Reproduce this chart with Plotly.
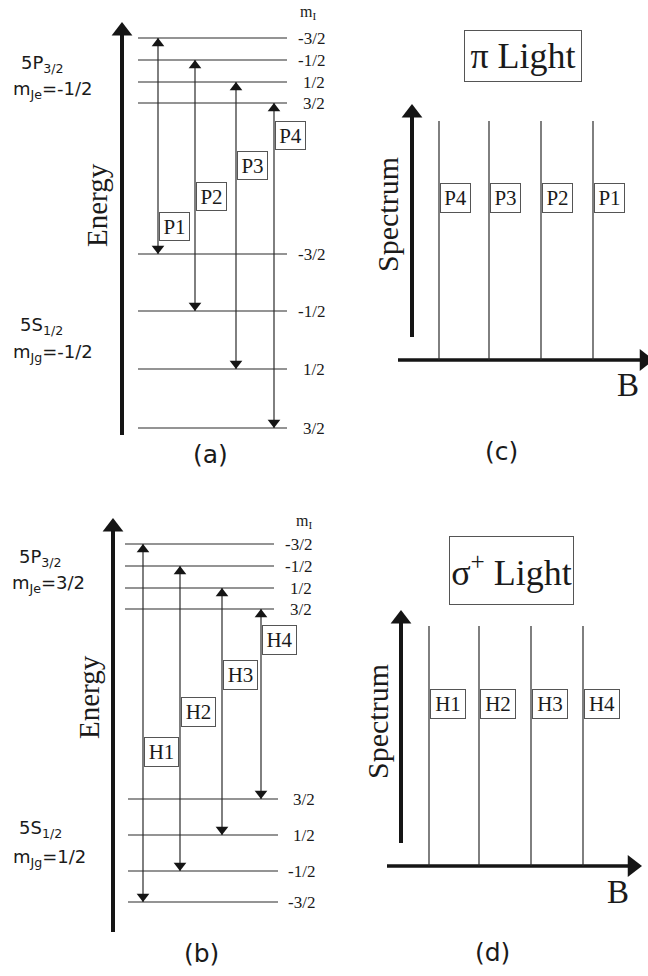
import plotly.graph_objects as go

# ----------------------------- data -----------------------------
# (a) pi light: 5P3/2 mJe=-1/2  <->  5S1/2 mJg=-1/2   (energy in drawing units)
A_EXC_E = [38, 60, 82, 103]
A_EXC_MI = ["-3/2", "-1/2", "1/2", "3/2"]
A_GND_E = [254, 311, 369, 428]
A_GND_MI = ["-3/2", "-1/2", "1/2", "3/2"]
A_TRANS = ["P1", "P2", "P3", "P4"]
A_TRANS_MI = ["-3/2", "-1/2", "1/2", "3/2"]
A_TRANS_X = [158, 195, 236, 274]
A_BOX_E = [226, 196, 165, 135]

# (b) sigma+ light: 5P3/2 mJe=3/2  <->  5S1/2 mJg=1/2
B_EXC_E = [544, 566, 588, 609]
B_EXC_MI = ["-3/2", "-1/2", "1/2", "3/2"]
B_GND_E = [799, 835, 871, 902]
B_GND_MI = ["3/2", "1/2", "-1/2", "-3/2"]
B_TRANS = ["H1", "H2", "H3", "H4"]
B_TRANS_MI = ["-3/2", "-1/2", "1/2", "3/2"]
B_TRANS_X = [143, 180, 222, 261]
B_BOX_E = [752, 712, 675, 640]

# (c) spectrum vs B, pi light
C_LINES = ["P4", "P3", "P2", "P1"]
C_B = [439, 489, 541, 593]
# (d) spectrum vs B, sigma+ light
D_LINES = ["H1", "H2", "H3", "H4"]
D_B = [429, 479, 531, 583]

# ----------------------------- styling -----------------------------
W, H = 648, 976
LEVEL_COL = "#2a2a2a"
ARROW_COL = "#2a2a2a"
AXIS_COL = "#151515"
TEXT_COL = "#1a1a1a"
SERIF = "Liberation Serif, Times New Roman, serif"
SANS = "DejaVu Sans, sans-serif"

fig = go.Figure()


def seg_trace(xs, ys, width, color):
    fig.add_trace(go.Scatter(x=xs, y=ys, mode="lines", hoverinfo="skip",
                             line=dict(color=color, width=width), showlegend=False))


def marker_trace(xs, ys, symbol, size, color):
    fig.add_trace(go.Scatter(x=xs, y=ys, mode="markers", hoverinfo="skip",
                             marker=dict(symbol=symbol, size=size, color=color,
                                         line=dict(width=0)),
                             showlegend=False, cliponaxis=False))


def text(x, y, s, size, font=SERIF, xanchor="center", yanchor="middle", angle=0):
    fig.add_annotation(x=x, y=y, xref="x", yref="y", text=s, showarrow=False,
                       textangle=angle, xanchor=xanchor, yanchor=yanchor,
                       font=dict(family=font, size=size, color=TEXT_COL))


def boxed(x, y, s, size, w, h, xanchor="left"):
    fig.add_annotation(x=x, y=y, xref="x", yref="y", text=s, showarrow=False,
                       xanchor=xanchor, yanchor="middle", width=w, height=h,
                       borderpad=0, bordercolor="#555555", borderwidth=1,
                       font=dict(family=SERIF, size=size, color=TEXT_COL))


def levels(energies, x0, x1):
    xs, ys = [], []
    for e in energies:
        xs += [x0, x1, None]
        ys += [e, e, None]
    seg_trace(xs, ys, 1.2, LEVEL_COL)


def transitions(xpos, e_up, e_down):
    xs, ys = [], []
    for x, u, d in zip(xpos, e_up, e_down):
        xs += [x, x, None]
        ys += [u, d, None]
    seg_trace(xs, ys, 1.2, ARROW_COL)
    r = 5.5
    marker_trace(xpos, [u + r for u in e_up], "triangle-up", 11, AXIS_COL)
    marker_trace(xpos, [d - r for d in e_down], "triangle-down", 11, AXIS_COL)


def v_axis(x, tip, bottom):
    seg_trace([x, x], [tip + 8, bottom], 4, AXIS_COL)
    marker_trace([x], [tip + 9], "triangle-up", 18, AXIS_COL)


def h_axis(y, left, tip):
    seg_trace([left, tip - 8], [y, y], 3.5, AXIS_COL)
    marker_trace([tip - 9.5], [y], "triangle-right", 19, AXIS_COL)


# ----------------------------- panel (a) -----------------------------
v_axis(122, 22, 435)
levels(A_EXC_E, 138, 287)
levels(A_GND_E, 138, 287)
a_up = [A_EXC_E[A_EXC_MI.index(m)] for m in A_TRANS_MI]
a_dn = [A_GND_E[A_GND_MI.index(m)] for m in A_TRANS_MI]
transitions(A_TRANS_X, a_up, a_dn)
for x, e, s in zip(A_TRANS_X, A_BOX_E, A_TRANS):
    boxed(x + 1, e, s, 21, 29, 27)
text(318, 12, "m<sub>I</sub>", 16, xanchor="right")
for e, m in zip(A_EXC_E, A_EXC_MI):
    text(327, e, m, 17, xanchor="right")
for e, m in zip(A_GND_E, A_GND_MI):
    text(327, e, m, 17, xanchor="right")
text(19, 64, "5P<sub>3/2</sub>", 18, font=SANS, xanchor="left")
text(11, 90, "m<sub>Je</sub>=-1/2", 18, font=SANS, xanchor="left")
text(18, 326, "5S<sub>1/2</sub>", 18, font=SANS, xanchor="left")
text(11, 353, "m<sub>Jg</sub>=-1/2", 18, font=SANS, xanchor="left")
text(97, 205, "Energy", 29, angle=-90)
text(210, 454, "(a)", 25, font=SANS)

# ----------------------------- panel (b) -----------------------------
v_axis(113, 518, 932)
levels(B_EXC_E, 125, 274)
levels(B_GND_E, 128, 278)
b_up = [B_EXC_E[B_EXC_MI.index(m)] for m in B_TRANS_MI]
b_dn = [B_GND_E[B_GND_MI.index(m)] for m in B_TRANS_MI]
transitions(B_TRANS_X, b_up, b_dn)
for x, e, s in zip(B_TRANS_X, B_BOX_E, B_TRANS):
    boxed(x + 1, e, s, 21, 33, 28)
text(314, 521, "m<sub>I</sub>", 16, xanchor="right")
for e, m in zip(B_EXC_E, B_EXC_MI):
    text(314, e, m, 17, xanchor="right")
for e, m in zip(B_GND_E, B_GND_MI):
    text(317, e, m, 17, xanchor="right")
text(17, 558, "5P<sub>3/2</sub>", 18, font=SANS, xanchor="left")
text(10, 584, "m<sub>Je</sub>=3/2", 18, font=SANS, xanchor="left")
text(17, 829, "5S<sub>1/2</sub>", 18, font=SANS, xanchor="left")
text(11, 858, "m<sub>Jg</sub>=1/2", 18, font=SANS, xanchor="left")
text(89, 697, "Energy", 29, angle=-90)
text(201, 953, "(b)", 25, font=SANS)

# ----------------------------- panel (c) -----------------------------
v_axis(412, 104, 337)
h_axis(360, 398, 654)
xs, ys = [], []
for b in C_B:
    xs += [b, b, None]
    ys += [121, 360, None]
seg_trace(xs, ys, 1.2, ARROW_COL)
for b, s in zip(C_B, C_LINES):
    boxed(b + 1, 198, s, 21, 29, 28)
boxed(523, 56, "π Light", 36, 116, 50, xanchor="center")
text(387, 215, "Spectrum", 30, angle=-90)
text(628, 385, "B", 33)
text(501, 451, "(c)", 25, font=SANS)

# ----------------------------- panel (d) -----------------------------
v_axis(401, 610, 843)
h_axis(866, 387, 642)
xs, ys = [], []
for b in D_B:
    xs += [b, b, None]
    ys += [626, 866, None]
seg_trace(xs, ys, 1.2, ARROW_COL)
for b, s in zip(D_B, D_LINES):
    boxed(b + 1, 704, s, 21, 34, 28)
boxed(511, 570, "σ<sup>+</sup> Light", 36, 123, 67, xanchor="center")
text(377, 722, "Spectrum", 30, angle=-90)
text(618, 892, "B", 33)
text(492, 952, "(d)", 25, font=SANS)

fig.update_layout(
    width=W, height=H, margin=dict(l=0, r=0, t=0, b=0),
    paper_bgcolor="white", plot_bgcolor="white", showlegend=False,
    xaxis=dict(range=[0, W], visible=False, fixedrange=True),
    yaxis=dict(range=[H, 0], visible=False, fixedrange=True),
)
fig.write_html("out.html", config={"displayModeBar": False},
               post_script="document.body.style.margin='0px';")
